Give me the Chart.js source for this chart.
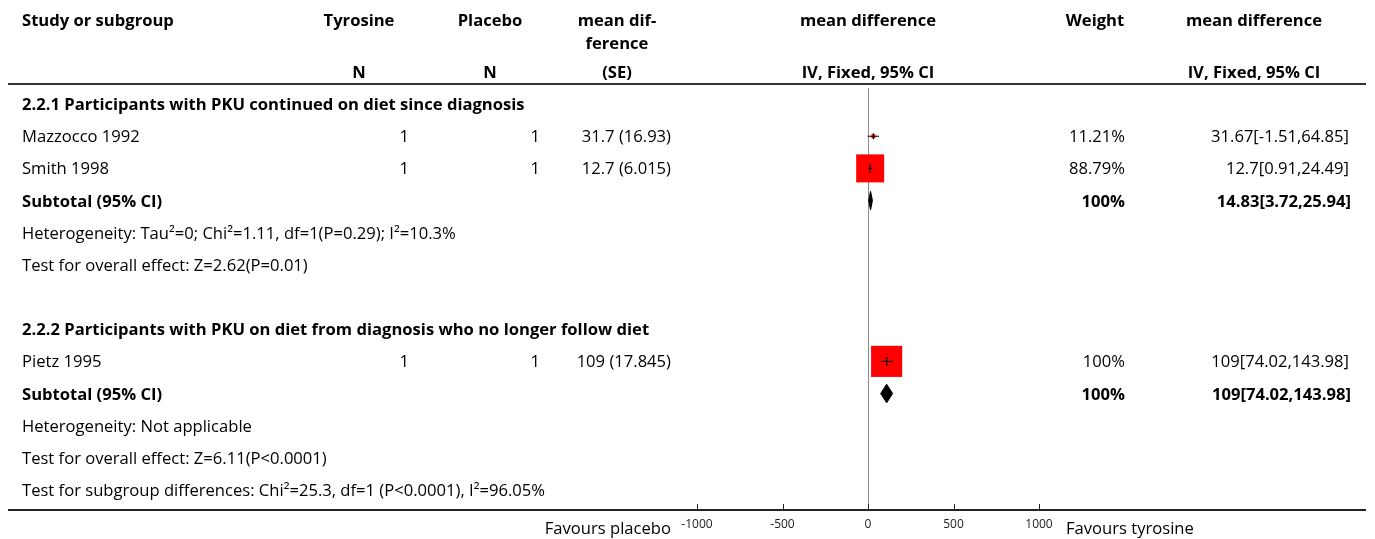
<!DOCTYPE html>
<html lang="en">
<head>
<meta charset="UTF-8">
<title>Forest plot - Tyrosine vs Placebo</title>
<script src="https://cdn.jsdelivr.net/npm/chart.js"></script>
<style>
body { margin: 0; width: 1375px; height: 539px; overflow: hidden; background: #fff;
  font-family: "Open Sans", "Noto Sans", sans-serif; font-size: 16.6px; color: #000; position: relative; }
#plot { position: absolute; left: 0; top: 0; }
.t { position: absolute; line-height: 20px; white-space: nowrap; }
.b { font-weight: bold; }
.r { text-align: right; }
.c { text-align: center; }
.rule { position: absolute; left: 8px; width: 1358px; background: #222; }
</style>
</head>
<body>
<canvas id="plot" width="1375" height="539"></canvas>
<div class="rule" style="top:83px;height:2px;background:#333"></div>
<div class="rule" style="top:509px;height:1.5px"></div>
<div id="texto"></div>
<script>
// filas del plot (indice de fila, 0 = primer titulo de subgrupo)
var rowTop = 104, rowStep = 32.17;

var studies = ["Mazzocco 1992", "Smith 1998", "Pietz 1995"];
var studyRows = [1, 2, 8];
var nTyrosine = [1, 1, 1];
var nPlacebo = [1, 1, 1];
var mdSE = ["31.7 (16.93)", "12.7 (6.015)", "109 (17.845)"];
var md = [31.67, 12.7, 109];
var ciLow = [-1.51, 0.91, 74.02];
var ciHigh = [64.85, 24.49, 143.98];
var weights = ["11.21%", "88.79%", "100%"];
var boxRadius = [2.8, 19.8, 22];

var subgroups = ["2.2.1 Participants with PKU continued on diet since diagnosis",
                 "2.2.2 Participants with PKU on diet from diagnosis who no longer follow diet"];
var subgroupRows = [0, 7];
var subtotalRows = [3, 9];
var subtotalMd = [14.83, 109];
var subtotalLow = [3.72, 74.02];
var subtotalHigh = [25.94, 143.98];
var subtotalWeight = ["100%", "100%"];

var notes = ["Heterogeneity: Tau\u00b2=0; Chi\u00b2=1.11, df=1(P=0.29); I\u00b2=10.3%",
             "Test for overall effect: Z=2.62(P=0.01)",
             "Heterogeneity: Not applicable",
             "Test for overall effect: Z=6.11(P<0.0001)",
             "Test for subgroup differences: Chi\u00b2=25.3, df=1 (P<0.0001), I\u00b2=96.05%"];
var noteRows = [4, 5, 10, 11, 12];

var xTicks = [-1000, -500, 0, 500, 1000];

function rowY(r) { return rowTop + r * rowStep; }

// ---- texto de la tabla ----
var html = "";
function txt(s, x, y, w, cls) {
  html += '<div class="t ' + cls + '" style="left:' + x + 'px;top:' + (y - 10) + 'px;width:' + w + 'px">' + s + '</div>';
}
// encabezados
txt("Study or subgroup", 22, 20, 250, "b");
txt("Tyrosine", 299, 20, 120, "b c");
txt("Placebo", 430, 20, 120, "b c");
txt("mean dif-", 557, 20, 120, "b c");
txt("ference", 557, 43, 120, "b c");
txt("mean difference", 768, 20, 200, "b c");
txt("Weight", 1035, 20, 120, "b c");
txt("mean difference", 1154, 20, 200, "b c");
txt("N", 299, 72, 120, "b c");
txt("N", 430, 72, 120, "b c");
txt("(SE)", 557, 72, 120, "b c");
txt("IV, Fixed, 95% CI", 768, 72, 200, "b c");
txt("IV, Fixed, 95% CI", 1154, 72, 200, "b c");

for (var i = 0; i < subgroups.length; i++) {
  txt(subgroups[i], 22, rowY(subgroupRows[i]), 800, "b");
  txt("Subtotal (95% CI)", 22, rowY(subtotalRows[i]), 300, "b");
  txt(subtotalWeight[i], 1000, rowY(subtotalRows[i]), 125, "b r");
  txt(subtotalMd[i] + "[" + subtotalLow[i] + "," + subtotalHigh[i] + "]", 1100, rowY(subtotalRows[i]), 251, "b r");
}
for (var i = 0; i < studies.length; i++) {
  var y = rowY(studyRows[i]);
  txt(studies[i], 22, y, 250, "");
  txt(nTyrosine[i], 309, y, 100, "r");
  txt(nPlacebo[i], 440, y, 100, "r");
  txt(mdSE[i], 520, y, 151, "r");
  txt(weights[i], 1000, y, 125, "r");
  txt(md[i] + "[" + ciLow[i] + "," + ciHigh[i] + "]", 1100, y, 249, "r");
}
for (var i = 0; i < notes.length; i++) {
  txt(notes[i], 22, rowY(noteRows[i]), 700, "");
}
txt("Favours placebo", 471, 528, 200, "r");
txt("Favours tyrosine", 1066, 528, 200, "");
document.getElementById("texto").innerHTML = html;

// ---- grafico ----
var datasets = [];
// cuadros
datasets.push({
  data: md.map(function (v, i) { return { x: v, y: studyRows[i] }; }),
  pointStyle: "rect", pointRadius: boxRadius, pointHoverRadius: boxRadius,
  backgroundColor: "#ff0000", borderWidth: 0, showLine: false, order: 3
});
// intervalos de confianza
for (var i = 0; i < md.length; i++) {
  datasets.push({
    data: [{ x: ciLow[i], y: studyRows[i] }, { x: ciHigh[i], y: studyRows[i] }],
    showLine: true, borderColor: "#000", borderWidth: 1, pointRadius: 0, order: 1
  });
}
// marca del estimado
datasets.push({
  data: md.map(function (v, i) { return { x: v, y: studyRows[i] }; }),
  pointStyle: "line", rotation: 90, pointRadius: [3, 4.5, 4.5],
  borderColor: "#000", borderWidth: 1.2, showLine: false, order: 0
});
// rombos de subtotales
var dh = 0.29;
for (var i = 0; i < subtotalMd.length; i++) {
  var r = subtotalRows[i];
  datasets.push({
    data: [{ x: subtotalLow[i], y: r }, { x: subtotalMd[i], y: r - dh },
           { x: subtotalHigh[i], y: r }, { x: subtotalMd[i], y: r + dh },
           { x: subtotalLow[i], y: r }],
    showLine: true, fill: "shape", backgroundColor: "#000", borderColor: "#000",
    borderWidth: 1, pointRadius: 0, order: 2
  });
}

var upTicks = {
  id: "upTicks",
  afterDraw: function (chart) {
    var ctx = chart.ctx, sx = chart.scales.x, yb = chart.chartArea.bottom;
    ctx.save();
    ctx.strokeStyle = "#222";
    ctx.lineWidth = 1;
    xTicks.forEach(function (v) {
      var px = Math.round(sx.getPixelForValue(v)) + 0.5;
      ctx.beginPath();
      ctx.moveTo(px, yb);
      ctx.lineTo(px, yb - 5);
      ctx.stroke();
    });
    ctx.restore();
  }
};

new Chart(document.getElementById("plot"), {
  type: "scatter",
  data: { datasets: datasets },
  plugins: [upTicks],
  options: {
    responsive: false,
    animation: false,
    events: [],
    layout: { padding: { left: 697, right: 336, top: 88, bottom: 0 } },
    plugins: { legend: { display: false }, tooltip: { enabled: false } },
    scales: {
      x: {
        type: "linear", min: -1000, max: 1000,
        afterBuildTicks: function (s) { s.ticks = xTicks.map(function (v) { return { value: v }; }); },
        afterFit: function (s) { s.height = 30; },
        border: { display: false },
        grid: {
          drawTicks: false,
          color: function (c) { return c.tick && c.tick.value === 0 ? "#8c8c8c" : "rgba(0,0,0,0)"; },
          lineWidth: 1
        },
        ticks: {
          padding: 8,
          color: "#222",
          font: { family: "'Open Sans', 'Noto Sans', sans-serif", size: 12 },
          callback: function (v) { return String(v); }
        }
      },
      y: {
        type: "linear", min: -0.5, max: 12.59, reverse: true, display: false
      }
    }
  }
});
</script>
</body>
</html>
